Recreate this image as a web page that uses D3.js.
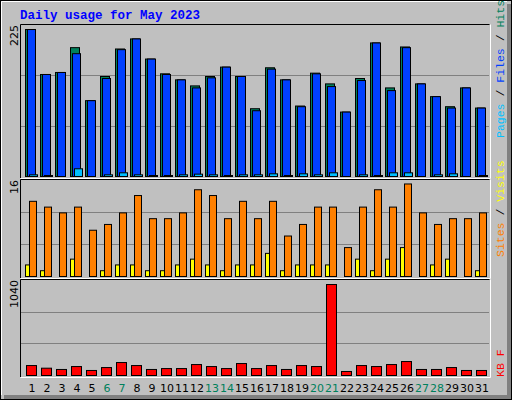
<!DOCTYPE html>
<html><head><meta charset="utf-8">
<script src="https://cdn.jsdelivr.net/npm/d3@7"></script>
<style>body{margin:0;background:#fff}</style></head>
<body><svg id="c" width="512" height="400"></svg>
<script>
const days = d3.range(1, 32);
const weekends = [6,7,13,14,20,21,27,28];
const hits  = [219,152,155,192,113,149,190,205,175,153,144,135,149,163,149,101,162,144,105,154,138,96,146,199,132,193,138,119,104,132,102];
const files = [219,152,155,183,113,146,189,205,175,152,144,132,147,163,149,98,160,144,104,153,134,96,143,199,128,192,138,119,102,132,102];
const pages = [2.5,1,0,11.5,0,2.5,5.5,2.5,1,1,2.5,3.5,2.5,1,2.5,2.5,4,1,4,2.5,5.5,0,2.5,1,5.5,5.5,0,2.5,4,0,1];
const sites = [13,12,11,12,8,9,11,14,10,10,11,15,14,10,13,10,13,7,9,12,12,5,12,15,12,16,11,9,10,10,11];
const visits= [2,1,0,3,0,1,2,2,1,1,2,3,2,1,2,2,4,1,2,2,2,0,3,1,3,5,0,2,3,0,1];
const kbytes= [109,80,66,98,55,87,142,109,66,76,76,120,98,76,131,76,109,66,109,98,996,44,109,98,120,153,66,66,87,55,55];
const axisMax = {top:"225", mid:"16", bot:"1040"};

const svg = d3.select("#c");
const C = {hits:"#00805c", files:"#0040ff", pages:"#00c0ff", sites:"#ff8000", visits:"#ffff00", kb:"#ff0000"};
// frame
svg.append("rect").attr("x",0.5).attr("y",0.5).attr("width",511).attr("height",399).attr("fill","#c0c0c0").attr("stroke","#000");
svg.append("rect").attr("x",507).attr("y",4).attr("width",4).attr("height",395).attr("fill","#808080");
svg.append("rect").attr("x",4).attr("y",395).attr("width",507).attr("height",4).attr("fill","#808080");
svg.append("path").attr("d","M1.5,395V1.5H507").attr("stroke","#fff").attr("fill","none");

svg.append("text").attr("x",20).attr("y",19).text("Daily usage for May 2023")
  .attr("font-family","Liberation Mono, DejaVu Sans Mono, monospace").attr("font-weight","bold")
  .attr("font-size",12.5).attr("fill","#0000ff");

const x = d3.scaleLinear().domain([1,31]).range([25,475]);
const panels = [
  {top:25, bot:178, base:176, max:225*176/151*151/176, label:axisMax.top},
  {top:180, bot:278, base:276, max:16.6, label:axisMax.mid},
  {top:280, bot:377, base:375, max:1040*95/95, label:axisMax.bot}
];
panels[0].max = 225*(176-25)/151; // 225 at y=25
panels.forEach(p=>{
  p.y = d3.scaleLinear().domain([0,p.max]).range([p.base, p.base-(p.base-p.top)*(p===panels[1]?1:1)]);
  const h = p.base - p.top;
  [1/3,2/3].forEach(f=>{
    const gy = Math.round(p.base - h*f)+0.5;
    svg.append("line").attr("x1",21).attr("x2",489).attr("y1",gy).attr("y2",gy).attr("stroke","#808080");
  });
  svg.append("path").attr("d",`M20.5,${p.bot}V${p.top-0.5}H489.5`).attr("stroke","#000").attr("fill","none");
  svg.append("path").attr("d",`M20.5,${p.bot+0.5}H490.5V${p.top-0.5}`).attr("stroke","#fff").attr("fill","none");
  svg.append("text").attr("transform",`translate(18,${p.top}) rotate(-90)`).attr("text-anchor","end")
    .attr("font-family","DejaVu Sans, sans-serif").attr("font-size",11).text(p.label);
});
panels[1].y = d3.scaleLinear().domain([0,16.6]).range([276,180]);
panels[2].y = d3.scaleLinear().domain([0,1040]).range([375,280]);

function bars(data, p, dx, w, color){
  svg.append("g").selectAll("rect").data(data).enter().filter(d=>d>0).append("rect")
    .attr("x",(d,i)=>x(days[data.indexOf(d)===-1?0:0])) ; // placeholder removed below
}
function drawBars(data, p, dx, w, color){
  const g = svg.append("g");
  data.forEach((v,i)=>{
    if(v<=0) return;
    const yt = p.y(v);
    g.append("rect").attr("x",x(days[i])+dx+0.5).attr("y",Math.min(yt,p.base-1)+0.5)
     .attr("width",w).attr("height",Math.max(p.base-yt,1))
     .attr("fill",color).attr("stroke","#000");
  });
}
drawBars(hits, panels[0], 0, 9, C.hits);
drawBars(files, panels[0], 2, 8, C.files);
drawBars(pages, panels[0], 4, 8, C.pages);
drawBars(visits, panels[1], 0, 4, C.visits);
drawBars(sites, panels[1], 4, 7, C.sites);
drawBars(kbytes, panels[2], 1, 10, C.kb);

svg.append("g").selectAll("text").data(days).enter().append("text")
  .attr("x",d=>x(d)+7).attr("y",392).attr("text-anchor","middle")
  .attr("font-family","DejaVu Sans, sans-serif").attr("font-size",11)
  .attr("fill",d=>weekends.includes(d)?C.hits:"#000").text(d=>d);

function sideLabel(parts, yEnd){
  const t = svg.append("text").attr("transform",`translate(504,${yEnd}) rotate(-90)`)
    .attr("font-family","Liberation Mono, DejaVu Sans Mono, monospace").attr("font-size",11.5);
  parts.forEach(([s,c])=>t.append("tspan").attr("fill",c).text(s));
}
sideLabel([["Pages",C.pages],[" / ","#000"],["Files",C.files],[" / ","#000"],["Hits",C.hits]], 138);
sideLabel([["Sites",C.sites],[" / ","#000"],["Visits",C.visits]], 257);
sideLabel([["KB F",C.kb]], 377);
</script></body></html>
